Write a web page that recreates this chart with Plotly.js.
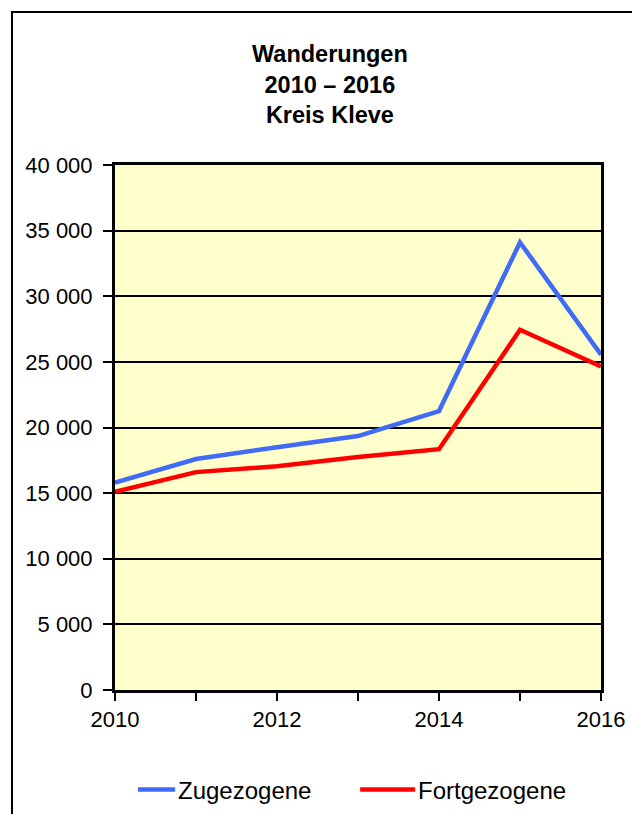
<!DOCTYPE html>
<html>
<head>
<meta charset="utf-8">
<script src="https://cdn.plot.ly/plotly-3.0.1.min.js"></script>
<style>
  html, body { margin: 0; padding: 0; background: #ffffff; }
  #wrap { position: relative; width: 632px; height: 814px; overflow: hidden; }
  #chart { width: 632px; height: 814px; }
  #frame { position: absolute; left: 11px; top: 11px; width: 640px; height: 820px;
           border-left: 2px solid #000; border-top: 2px solid #000; pointer-events: none; }
  /* longer legend swatches, as in the reference */
  #chart .legend .traces path.js-line,
  #chart .legend .legendlines path {
    transform: translateX(-27px) scaleX(1.833);
  }
</style>
</head>
<body>
<div id="wrap">
  <div id="chart"></div>
  <div id="frame"></div>
</div>
<script>
const years = [2010, 2011, 2012, 2013, 2014, 2015, 2016];
const zugezogene = [15800, 17600, 18500, 19350, 21250, 34100, 25550];
const fortgezogene = [15100, 16600, 17050, 17750, 18350, 27450, 24650];
const xTickVals = [2010, 2011, 2012, 2013, 2014, 2015, 2016];
const xTickText = ['2010', '', '2012', '', '2014', '', '2016'];
const yTickVals = [0, 5000, 10000, 15000, 20000, 25000, 30000, 35000, 40000];

const font = 'Liberation Sans, Arial, sans-serif';

const traces = [
  { x: years, y: zugezogene, name: 'Zugezogene', type: 'scatter', mode: 'lines',
    line: { color: '#3F6BF5', width: 4.5 } },
  { x: years, y: fortgezogene, name: 'Fortgezogene', type: 'scatter', mode: 'lines',
    line: { color: '#FF0000', width: 4.5 } }
];

const layout = {
  width: 632, height: 814,
  margin: { l: 115, r: 31, t: 165, b: 124, autoexpand: false },
  paper_bgcolor: '#ffffff',
  plot_bgcolor: '#FFFFCC',
  separators: ', ',
  font: { family: font, color: '#000', size: 21 },
  title: {
    text: '<b>Wanderungen<br>2010 – 2016<br>Kreis Kleve</b>',
    font: { family: font, size: 23.5, color: '#000' },
    x: 0.522, xref: 'container', xanchor: 'center',
    y: 1 - 62 / 814, yref: 'container', yanchor: 'top'
  },
  xaxis: {
    range: [2010, 2016],
    tickmode: 'array', tickvals: xTickVals, ticktext: xTickText,
    ticks: 'outside', ticklen: 8, tickwidth: 2, tickcolor: '#000',
    showline: true, linecolor: '#000', linewidth: 3, mirror: true,
    showgrid: false, zeroline: false,
    tickfont: { family: font, size: 22, color: '#000' }
  },
  yaxis: {
    range: [0, 40000],
    tickmode: 'array', tickvals: yTickVals, tickformat: ',d',
    ticks: 'outside', ticklen: 9, tickwidth: 2, tickcolor: '#000',
    ticklabelstandoff: 6,
    showline: true, linecolor: '#000', linewidth: 3, mirror: true,
    showgrid: true, gridcolor: '#000', gridwidth: 2, zeroline: false,
    tickfont: { family: font, size: 22, color: '#000' }
  },
  showlegend: true,
  legend: {
    orientation: 'h', xref: 'container', yref: 'container',
    x: 138 / 632, xanchor: 'left', y: 24 / 814, yanchor: 'middle',
    font: { family: font, size: 24, color: '#000' },
    bgcolor: 'rgba(0,0,0,0)', entrywidth: 195, entrywidthmode: 'pixels'
  }
};

Plotly.newPlot('chart', traces, layout, { displayModeBar: false, staticPlot: true });
</script>
</body>
</html>
